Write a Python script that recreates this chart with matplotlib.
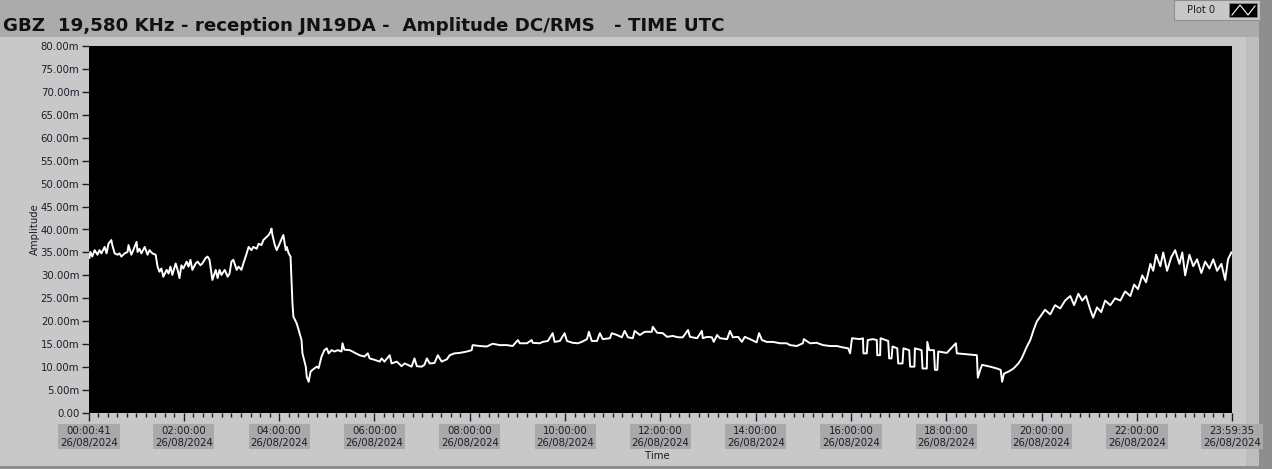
import matplotlib
matplotlib.use("Agg")
import matplotlib.pyplot as plt
from matplotlib.patches import Rectangle
from matplotlib.lines import Line2D

# amplitude trace (hours UTC, milli-units)
TIME_H = [
    0.02, 0.04, 0.08, 0.13, 0.19, 0.23, 0.27, 0.34, 0.38, 0.42, 0.48, 0.50, 0.55, 0.61, 0.65,
    0.69, 0.76, 0.82, 0.84, 0.90, 0.94, 1.01, 1.03, 1.07, 1.11, 1.18, 1.24, 1.28, 1.34, 1.41,
    1.45, 1.49, 1.53, 1.57, 1.64, 1.68, 1.72, 1.76, 1.83, 1.87, 1.91, 1.95, 1.99, 2.06, 2.10,
    2.14, 2.18, 2.25, 2.29, 2.35, 2.39, 2.46, 2.50, 2.54, 2.58, 2.60, 2.67, 2.71, 2.75, 2.79,
    2.86, 2.92, 2.96, 3.00, 3.04, 3.11, 3.15, 3.21, 3.25, 3.32, 3.36, 3.42, 3.46, 3.53, 3.57,
    3.63, 3.67, 3.74, 3.78, 3.82, 3.84, 3.86, 3.91, 3.95, 4.01, 4.07, 4.09, 4.14, 4.16, 4.20,
    4.24, 4.26, 4.28, 4.30, 4.37, 4.41, 4.47, 4.49, 4.56, 4.58, 4.62, 4.66, 4.70, 4.79, 4.83,
    4.89, 4.95, 5.00, 5.04, 5.10, 5.16, 5.23, 5.31, 5.33, 5.37, 5.48, 5.54, 5.61, 5.69, 5.79,
    5.86, 5.90, 6.00, 6.11, 6.15, 6.21, 6.32, 6.36, 6.47, 6.57, 6.63, 6.70, 6.78, 6.84, 6.89,
    6.99, 7.05, 7.10, 7.16, 7.26, 7.33, 7.41, 7.52, 7.58, 7.68, 7.79, 7.94, 8.04, 8.06, 8.21,
    8.36, 8.48, 8.63, 8.78, 8.90, 9.01, 9.05, 9.20, 9.30, 9.32, 9.47, 9.53, 9.64, 9.74, 9.78,
    9.89, 9.99, 10.04, 10.16, 10.27, 10.35, 10.46, 10.50, 10.56, 10.67, 10.73, 10.79, 10.94, 10.98, 11.09,
    11.19, 11.25, 11.32, 11.42, 11.46, 11.57, 11.67, 11.82, 11.84, 11.93, 12.05, 12.14, 12.26, 12.37, 12.47,
    12.58, 12.62, 12.77, 12.87, 12.89, 12.98, 13.08, 13.12, 13.19, 13.25, 13.40, 13.46, 13.52, 13.63, 13.71,
    13.77, 13.88, 14.02, 14.07, 14.13, 14.23, 14.36, 14.51, 14.65, 14.72, 14.86, 14.99, 15.01, 15.14, 15.28,
    15.41, 15.56, 15.70, 15.83, 15.94, 15.98, 16.02, 16.19, 16.25, 16.26, 16.33, 16.35, 16.46, 16.54, 16.55,
    16.61, 16.62, 16.78, 16.80, 16.85, 16.87, 16.97, 16.99, 17.08, 17.10, 17.22, 17.24, 17.33, 17.34, 17.48,
    17.50, 17.59, 17.60, 17.64, 17.74, 17.76, 17.81, 17.83, 18.01, 18.20, 18.22, 18.43, 18.64, 18.66, 18.71,
    18.75, 18.92, 19.06, 19.14, 19.17, 19.21, 19.30, 19.41, 19.51, 19.58, 19.69, 19.76, 19.83, 19.90, 19.97,
    20.07, 20.18, 20.28, 20.39, 20.49, 20.60, 20.68, 20.77, 20.85, 20.93, 21.02, 21.08, 21.16, 21.25, 21.33,
    21.44, 21.54, 21.65, 21.75, 21.86, 21.94, 22.02, 22.11, 22.19, 22.28, 22.34, 22.40, 22.49, 22.55, 22.63,
    22.72, 22.80, 22.89, 22.95, 23.01, 23.10, 23.18, 23.26, 23.35, 23.43, 23.52, 23.60, 23.68, 23.77, 23.85,
    23.91, 23.98,
]
AMPLITUDE_M = [
    33.8, 35.1, 34.1, 35.5, 34.5, 35.5, 34.8, 36.2, 34.8, 36.9, 37.7, 36.6, 34.8, 34.5, 34.8,
    34.1, 34.8, 35.1, 36.6, 34.5, 35.5, 37.3, 35.1, 35.8, 34.8, 36.2, 34.5, 35.5, 34.8, 34.5,
    31.9, 30.8, 31.5, 29.7, 31.2, 30.4, 31.9, 30.1, 32.6, 31.2, 29.4, 32.2, 31.5, 33.0, 31.9,
    33.4, 31.2, 32.6, 33.0, 32.2, 32.6, 33.8, 34.1, 33.4, 30.4, 29.0, 31.2, 29.4, 31.2, 30.1,
    31.2, 29.7, 30.4, 33.0, 33.4, 31.2, 31.9, 31.2, 32.6, 34.8, 36.2, 35.5, 36.2, 35.8, 36.9,
    36.6, 37.7, 38.4, 38.8, 39.5, 40.2, 38.8, 36.6, 35.5, 36.9, 38.4, 38.8, 35.5, 36.2, 34.8,
    34.1, 29.0, 23.9, 21.0, 19.5, 18.1, 15.9, 13.0, 10.1, 7.9, 6.8, 9.0, 9.4, 10.1, 9.8,
    12.3, 13.7, 14.1, 13.0, 13.7, 13.4, 13.7, 13.4, 15.2, 13.8, 13.7, 13.4, 13.0, 12.6, 12.3,
    13.0, 11.9, 11.6, 11.2, 11.9, 11.2, 12.6, 10.8, 11.2, 10.2, 10.8, 10.5, 10.1, 11.9, 10.2,
    10.1, 10.5, 11.9, 10.8, 10.9, 12.6, 11.2, 11.7, 12.6, 13.0, 13.1, 13.4, 13.7, 14.8, 14.6,
    14.5, 15.1, 14.8, 14.8, 14.6, 15.9, 15.2, 15.2, 15.9, 15.3, 15.2, 15.5, 15.7, 17.4, 15.5,
    15.7, 17.4, 15.7, 15.3, 15.2, 15.5, 16.1, 17.7, 15.7, 15.7, 17.4, 16.1, 16.3, 17.4, 17.0,
    16.5, 17.9, 16.5, 16.3, 17.9, 17.0, 17.7, 17.7, 18.8, 17.5, 17.4, 16.6, 16.8, 16.5, 16.5,
    18.1, 16.6, 16.3, 17.9, 16.3, 16.6, 16.5, 15.5, 17.0, 16.3, 16.1, 17.9, 16.5, 16.6, 15.5,
    16.6, 16.1, 15.4, 17.4, 15.9, 15.5, 15.5, 15.2, 15.2, 14.8, 14.6, 15.2, 16.1, 15.2, 15.3,
    14.8, 14.6, 14.6, 14.3, 14.1, 13.0, 16.3, 16.1, 16.3, 13.0, 13.0, 15.9, 16.1, 15.9, 12.6,
    12.6, 16.3, 15.7, 11.9, 11.9, 14.5, 14.1, 10.8, 10.8, 14.1, 13.7, 10.1, 10.1, 14.1, 13.7,
    9.7, 9.7, 15.5, 13.7, 13.7, 9.4, 9.4, 13.4, 13.1, 15.2, 13.0, 12.8, 12.6, 7.7, 9.4,
    10.5, 10.1, 9.7, 9.4, 6.8, 8.6, 9.0, 9.7, 10.8, 11.9, 14.5, 15.9, 18.1, 20.0, 21.0,
    22.5, 21.5, 23.5, 22.8, 24.5, 25.5, 23.5, 26.0, 24.5, 25.5, 22.5, 20.8, 23.0, 22.0, 24.5,
    23.5, 25.0, 24.5, 26.5, 25.5, 28.0, 27.0, 30.0, 28.5, 32.5, 31.0, 34.5, 32.0, 35.0, 31.0,
    34.0, 35.5, 32.5, 35.0, 30.0, 34.5, 32.0, 33.5, 30.5, 33.0, 31.5, 33.5, 31.0, 32.5, 29.0,
    33.5, 35.0,
]

T_START = 41 / 3600
T_END = 23 + 59 / 60 + 35 / 3600
XTICK_POS = [T_START] + list(range(2, 24, 2)) + [T_END]
XTICK_TIMES = ["00:00:41", "02:00:00", "04:00:00", "06:00:00", "08:00:00", "10:00:00",
               "12:00:00", "14:00:00", "16:00:00", "18:00:00", "20:00:00", "22:00:00",
               "23:59:35"]
DATE = "26/08/2024"
YTICKS = list(range(0, 85, 5))
TITLE = "GBZ  19,580 KHz - reception JN19DA -  Amplitude DC/RMS   - TIME UTC"

W, H = 1272, 469
PANEL = "#c8c8c8"
BAND = "#ababab"
TXT = "#1c1c2c"

fig = plt.figure(figsize=(W / 100, H / 100), dpi=100)
fig.patch.set_facecolor(PANEL)

# LabVIEW-ish front panel decorations
fig.add_artist(Rectangle((0, 1 - 37 / H), 1, 37 / H, transform=fig.transFigure,
                         facecolor=BAND, edgecolor="none", zorder=0))
fig.add_artist(Rectangle((1259 / W, 0), 13 / W, 1, transform=fig.transFigure,
                         facecolor="#8e8e8e", edgecolor="none", zorder=0))
fig.add_artist(Rectangle((1246 / W, 0), 13 / W, 1 - 37 / H, transform=fig.transFigure,
                         facecolor="#bdbdbd", edgecolor="none", zorder=0))
fig.add_artist(Rectangle((0, 0), 1259 / W, 3 / H, transform=fig.transFigure,
                         facecolor="#8e8e8e", edgecolor="none", zorder=0))
fig.add_artist(Rectangle((1174 / W, 1 - 20 / H), 86 / W, 20 / H, transform=fig.transFigure,
                         facecolor=PANEL, edgecolor="#8e8e8e", linewidth=0.8, zorder=1))
fig.text(1187 / W, 1 - 10 / H, "Plot 0", fontsize=7.2, color=TXT, va="center",
         family="DejaVu Sans")
fig.add_artist(Rectangle((1229 / W, 1 - 17 / H), 28 / W, 14 / H, transform=fig.transFigure,
                         facecolor="black", edgecolor="#808080", linewidth=0.6, zorder=2))
fig.add_artist(Line2D([1232 / W, 1240 / W, 1248 / W, 1255 / W],
                      [1 - 15 / H, 1 - 5 / H, 1 - 15 / H, 1 - 6 / H],
                      transform=fig.transFigure, color="white", linewidth=0.8, zorder=3))

title = fig.text(3 / W, 1 - 31 / H, TITLE, fontsize=14, fontweight="bold",
                 color="#111111", va="baseline", family="DejaVu Sans")
renderer = fig.canvas.get_renderer()
tw = title.get_window_extent(renderer).width
title.set_fontsize(14 * 724 / tw)

ax = fig.add_axes([89 / W, (H - 413) / H, (1232 - 89) / W, (413 - 46) / H])
ax.set_facecolor("black")
ax.plot(TIME_H, AMPLITUDE_M, color="white", linewidth=1.4)

ax.set_xlim(T_START, T_END)
ax.set_ylim(0, 80)
ax.set_yticks(YTICKS)
ax.set_yticklabels(["0.00" if v == 0 else f"{v:.2f}m" for v in YTICKS])
ax.set_xticks(XTICK_POS)
ax.set_xticklabels([f"{t}\n{DATE}" for t in XTICK_TIMES], linespacing=1.25)
ax.set_xticks([i * 0.2 for i in range(1, 120) if i % 10 != 0], minor=True)

for s in ax.spines.values():
    s.set_visible(False)
ax.tick_params(axis="y", direction="out", length=5, width=1, color=TXT, pad=2,
               labelsize=7.3, labelcolor=TXT)
ax.tick_params(axis="x", which="major", direction="out", length=6, width=1, color=TXT,
               pad=3, labelsize=7.3, labelcolor=TXT)
ax.tick_params(axis="x", which="minor", direction="out", length=3, width=1, color=TXT)
for lbl in ax.get_xticklabels():
    lbl.set_bbox(dict(facecolor="#a9a9a9", edgecolor="none", pad=1.2))

ax.set_ylabel("Amplitude", fontsize=7.3, color=TXT)
ax.yaxis.set_label_coords(-0.043, 0.5)
ax.set_xlabel("Time", fontsize=7.3, color=TXT)
ax.xaxis.set_label_coords(0.497, -0.104)

fig.savefig("out.png", dpi=100, facecolor=fig.get_facecolor())
